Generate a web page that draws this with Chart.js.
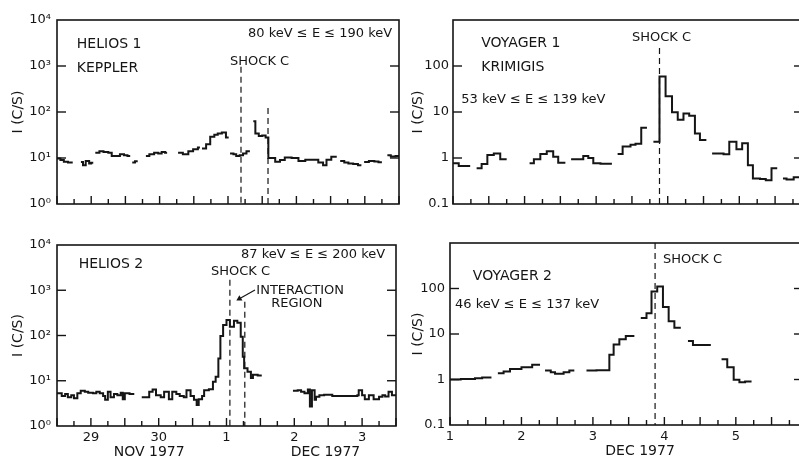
<!DOCTYPE html>
<html>
<head>
<meta charset="utf-8">
<script src="https://cdn.jsdelivr.net/npm/chart.js@4.4.1/dist/chart.umd.min.js"></script>
<style>
  html, body { margin: 0; padding: 0; background: #fff; width: 799px; height: 462px; overflow: hidden; }
  canvas { position: absolute; }
</style>
</head>
<body>
<canvas id="helios1" width="400" height="230" style="left:0;top:0"></canvas>
<canvas id="helios2" width="400" height="232" style="left:0;top:230px"></canvas>
<canvas id="voyager1" width="420" height="230" style="left:400px;top:0"></canvas>
<canvas id="voyager2" width="420" height="232" style="left:400px;top:230px"></canvas>
<script>
const INK = '#151515';
const TICK_INK = '#141414';
Chart.defaults.font.family = "'DejaVu Sans', sans-serif";
Chart.defaults.color = INK;
Chart.defaults.animation = false;

// Helios time axis: day of month counted from Nov, so Dec 1 = 31
const heliosDayTicks = [29, 30, 31, 32, 33];
const heliosDayLabels = ['29', '30', '1', '2', '3'];
const heliosDecades = [1, 10, 100, 1000, 10000];
const heliosDecadeLabels = ['10\u2070', '10\u00b9', '10\u00b2', '10\u00b3', '10\u2074'];

// Voyager time axis: day of Dec 1977
const voyagerDayTicks = [1, 2, 3, 4, 5];
const voyagerDayLabels = ['1', '2', '3', '4', '5'];
const voyagerDecades = [0.1, 1, 10, 100, 1000];
const voyagerDecadeLabels = ['0.1', '1', '10', '100', ''];

// Helios 1, 80-190 keV (null = data gap)
const h1Days = [
  28.50, 28.55, 28.60, 28.66, 28.73, 28.79,
  28.85, 28.88, 28.92, 28.97, 29.00, 29.03, 29.05,
  29.06, 29.12, 29.18, 29.25, 29.30, 29.37, 29.42, 29.48, 29.53, 29.57, 29.59,
  29.60, 29.64, 29.68, 29.74,
  29.80, 29.85, 29.92, 29.98, 30.03, 30.08, 30.11, 30.20,
  30.27, 30.34, 30.42, 30.49, 30.56, 30.59, 30.60,
  30.62, 30.68, 30.74, 30.80, 30.85, 30.91, 30.97, 31.01, 31.02,
  31.03, 31.08, 31.12, 31.17, 31.22, 31.27, 31.32, 31.35,
  31.37, 31.40, 31.45, 31.50, 31.55, 31.59, 31.69, 31.76, 31.83, 31.93, 32.03,
  32.13, 32.22, 32.32, 32.39, 32.44, 32.51, 32.59, 32.62,
  32.64, 32.70, 32.76, 32.83, 32.90, 32.95, 32.97,
  32.99, 33.06, 33.14, 33.20, 33.25, 33.29,
  33.33, 33.38, 33.45, 33.50
];
const h1Counts = [
  9.8, 9.0, 8.3, 8.0, 8.0, null,
  8.2, 7.0, 8.6, 7.6, 7.9, 7.9, null,
  13, 14, 13.5, 13, 11, 11, 12, 11.5, 11, 11, null,
  8.0, 8.5, 8.5, null,
  11, 12, 13, 12.5, 13.5, 13, 13, null,
  13, 12, 14, 15.5, 17, 17, null,
  16, 20, 29, 32, 34, 36, 28, 28, null,
  12.5, 12, 11, 11.5, 12.5, 14, 14, null,
  63, 34, 30, 31, 28, 10, 8.3, 9.0, 10.3, 10, 8.6,
  9.2, 9.2, 8.0, 7.0, 9.2, 10.7, 10.7, null,
  8.6, 8.0, 7.6, 7.4, 7.0, 7.0, null,
  8.2, 8.6, 8.4, 8.1, 8.1, null,
  11.5, 10.8, 11, 11
];
const h1ShockDays = [31.19, 31.585];
const h1ShockTops = [966, 122];

// Helios 2, 87-200 keV
const h2Days = [
  28.50, 28.57, 28.62, 28.66, 28.71, 28.75, 28.80, 28.85, 28.91, 28.96, 29.03, 29.08,
  29.13, 29.18, 29.21, 29.25, 29.29, 29.34, 29.39, 29.44, 29.47, 29.50, 29.57, 29.64, 29.70,
  29.75, 29.86, 29.91, 29.96, 30.03, 30.08, 30.15, 30.20, 30.26, 30.31, 30.37, 30.41,
  30.47, 30.52, 30.56, 30.59, 30.64, 30.67, 30.74, 30.80, 30.84, 30.88, 30.91, 30.95,
  31.00, 31.05, 31.11, 31.16, 31.21, 31.24, 31.26, 31.31, 31.36, 31.39, 31.46, 31.52, 31.70,
  31.98, 32.05, 32.10, 32.15, 32.20, 32.23, 32.26, 32.30, 32.32, 32.37, 32.44, 32.56,
  32.71, 32.83, 32.93, 32.95, 33.00, 33.04, 33.10, 33.17, 33.25, 33.30, 33.34, 33.39,
  33.44, 33.50
];
const h2Counts = [
  5.3, 4.6, 5.1, 4.3, 4.8, 4.1, 5.3, 6.0, 5.7, 5.4, 5.3, 5.7,
  5.3, 4.6, 3.8, 5.7, 4.3, 5.1, 4.8, 5.4, 3.9, 5.3, 5.1, 5.1, null,
  4.3, 5.7, 6.4, 4.8, 4.3, 5.7, 3.9, 5.7, 5.1, 4.6, 4.3, 6.2,
  4.6, 3.8, 2.9, 3.9, 4.6, 6.2, 6.5, 9.5, 12.3, 31, 97, 170,
  220, 156, 212, 191, 94, 34, 19, 15.8, 11.5, 13.5, 13, 13, null,
  6.0, 6.2, 5.7, 5.3, 6.4, 2.7, 6.2, 3.8, 4.45, 4.8, 4.9, 4.6,
  4.6, 4.6, 4.8, 6.2, 4.8, 3.9, 4.8, 3.9, 4.45, 4.8, 4.5, 5.7,
  4.8, 4.8
];
const h2ShockDays = [31.05, 31.27];
const h2ShockTops = [1700, 560];
const h2ArrowDays = [31.42, 31.19];
const h2ArrowCounts = [1012, 650];

// Voyager 1, 53-139 keV
const v1Days = [
  1.00, 1.08, 1.24, 1.28,
  1.33, 1.40, 1.48, 1.57, 1.66, 1.75, 1.90,
  2.07, 2.13, 2.22, 2.31, 2.40, 2.47, 2.57, 2.60,
  2.65, 2.82, 2.89, 2.96, 3.06, 3.22, 3.26,
  3.30, 3.37, 3.48, 3.55, 3.63, 3.71, 3.75,
  3.80, 3.885, 3.97, 4.06, 4.14, 4.22, 4.30, 4.38, 4.45, 4.54, 4.58,
  4.62, 4.78, 4.86, 4.96, 5.04, 5.12, 5.19, 5.29, 5.37, 5.45, 5.53, 5.57,
  5.61, 5.66, 5.76, 5.89
];
const v1Counts = [
  0.77, 0.67, 0.67, null,
  0.6, 0.74, 1.16, 1.26, 0.94, 0.94, null,
  0.77, 0.94, 1.22, 1.4, 1.07, 0.79, 0.79, null,
  0.94, 1.1, 1.0, 0.77, 0.75, 0.75, null,
  1.22, 1.77, 1.95, 2.05, 4.55, 4.55, null,
  2.26, 59, 22, 9.9, 6.8, 9.3, 8.3, 3.4, 2.45, 2.45, null,
  1.26, 1.2, 2.26, 1.55, 2.09, 0.7, 0.36, 0.35, 0.33, 0.6, 0.6, null,
  0.36, 0.34, 0.38, 0.38
];
const v1ShockDays = [3.885];
const v1ShockTops = [245];

// Voyager 2, 46-137 keV
const v2Days = [
  1.00, 1.15, 1.35, 1.45, 1.58, 1.62,
  1.67, 1.75, 1.84, 2.00, 2.15, 2.26, 2.30,
  2.33, 2.41, 2.47, 2.59, 2.67, 2.74, 2.80,
  2.91, 3.05, 3.23, 3.29, 3.37, 3.46, 3.58, 3.62,
  3.67, 3.75, 3.82, 3.90, 3.98, 4.06, 4.14, 4.23, 4.28,
  4.33, 4.40, 4.65, 4.70,
  4.80, 4.88, 4.97, 5.05, 5.13, 5.22
];
const v2Counts = [
  1.0, 1.02, 1.06, 1.1, 1.1, null,
  1.37, 1.5, 1.7, 1.85, 2.1, 2.1, null,
  1.58, 1.45, 1.33, 1.45, 1.58, 1.58, null,
  1.58, 1.6, 3.5, 5.9, 7.7, 9.0, 9.0, null,
  22.5, 28.7, 86, 110, 39, 19, 13.7, 13.7, null,
  7.0, 5.7, 5.7, null,
  2.8, 1.85, 0.99, 0.87, 0.9, 0.9
];
const v2ShockDays = [3.87];
const v2ShockTops = [1000];

// lettering inside the panels, placed in data coordinates (day, count)
const h1Notes = [
  { text: 'HELIOS 1', day: 28.79, count: 3000, size: 14 },
  { text: 'KEPPLER', day: 28.79, count: 905, size: 14 },
  { text: '80 keV \u2264 E \u2264 190 keV', day: 33.40, count: 4965, size: 13, align: 'right' },
  { text: 'SHOCK C', day: 31.03, count: 1222, size: 13 }
];
const h2Notes = [
  { text: 'HELIOS 2', day: 28.82, count: 3800, size: 14 },
  { text: '87 keV \u2264 E \u2264 200 keV', day: 33.34, count: 6000, size: 13, align: 'right' },
  { text: 'SHOCK C', day: 30.77, count: 2530, size: 13 },
  { text: 'INTERACTION', day: 31.44, count: 962, size: 13 },
  { text: 'REGION', day: 31.66, count: 497, size: 13 },
  { text: 'NOV 1977', day: 29.86, count: 0.266, size: 14, align: 'center' },
  { text: 'DEC 1977', day: 32.46, count: 0.266, size: 14, align: 'center' }
];
const v1Notes = [
  { text: 'VOYAGER 1', day: 1.395, count: 316, size: 14 },
  { text: 'KRIMIGIS', day: 1.395, count: 95, size: 14 },
  { text: '53 keV \u2264 E \u2264 139 keV', day: 1.116, count: 18.2, size: 13 },
  { text: 'SHOCK C', day: 3.50, count: 406, size: 13 }
];
const v2Notes = [
  { text: 'VOYAGER 2', day: 1.32, count: 182, size: 14 },
  { text: '46 keV \u2264 E \u2264 137 keV', day: 1.07, count: 44.9, size: 13 },
  { text: 'SHOCK C', day: 3.98, count: 427, size: 13 },
  { text: 'DEC 1977', day: 3.66, count: 0.026, size: 14, align: 'center' }
];

// box frame, inward ticks (quarter days, longer each half day; decades on
// both sides) and the lettering
function makeFrame(p) {
  return {
    id: 'frame',
    afterDraw(chart) {
      const { ctx, chartArea: a } = chart;
      const x = chart.scales.x, y = chart.scales.y;
      ctx.save();
      ctx.strokeStyle = INK;
      ctx.lineWidth = 1.6;
      ctx.strokeRect(a.left, a.top, a.right - a.left, a.bottom - a.top);
      // reset the fill state before the tick marks
      ctx.fillStyle = '#ffffff';
      ctx.fillRect(0, 0, 1, 1);
      ctx.fillStyle = TICK_INK;
      const n = Math.floor((x.max - x.min) * 4 + 1e-6);
      for (let k = 0; k <= n; k++) {
        const v = x.min + k / 4;
        const px = x.getPixelForValue(v);
        const len = Math.abs(v * 2 - Math.round(v * 2)) < 1e-6 ? 8 : 5;
        ctx.fillRect(px - 0.7, a.bottom - len, 1.4, len);
      }
      p.decades.forEach(v => {
        const py = y.getPixelForValue(v);
        if (!(py > a.top + 2 && py < a.bottom - 2)) return;
        ctx.fillRect(a.left, py - 0.7, 9, 1.4);
        ctx.fillRect(a.right - 9, py - 0.7, 9, 1.4);
      });
      ctx.fillStyle = INK;
      ctx.textBaseline = 'middle';
      p.notes.forEach(t => {
        ctx.font = t.size + "px 'DejaVu Sans', sans-serif";
        ctx.textAlign = t.align || 'left';
        ctx.fillText(t.text, x.getPixelForValue(t.day), y.getPixelForValue(t.count));
      });
      ctx.restore();
    }
  };
}

function series(days, counts) {
  return days.map((d, i) => ({ x: d, y: counts[i] }));
}

function makePanel(id, p) {
  const datasets = [{
    data: series(p.days, p.counts),
    borderColor: INK,
    borderWidth: 2,
    stepped: true,
    spanGaps: false,
    pointRadius: 0
  }];
  p.shockDays.forEach((d, i) => datasets.push({
    data: [{ x: d, y: p.shockTops[i] }, { x: d, y: p.yMin }],
    borderColor: INK,
    borderWidth: 1.2,
    borderDash: [6, 4],
    pointRadius: 0
  }));
  if (p.arrowDays) {
    datasets.push({
      data: series(p.arrowDays, p.arrowCounts),
      borderColor: INK,
      borderWidth: 1.2,
      pointStyle: 'triangle',
      pointRadius: [0, 3.5],
      pointRotation: 240,
      pointBackgroundColor: INK,
      pointBorderWidth: 0
    });
  }
  return new Chart(document.getElementById(id), {
    type: 'line',
    data: { datasets },
    options: {
      responsive: false,
      layout: { autoPadding: false, padding: { top: p.padTop, right: p.padRight, left: 0, bottom: 0 } },
      plugins: {
        legend: { display: false },
        tooltip: { enabled: false }
      },
      scales: {
        x: {
          type: 'linear',
          min: p.xMin,
          max: p.xMax,
          grid: { display: false, drawTicks: false, tickLength: 0 },
          border: { display: false },
          ticks: {
            display: p.showDays,
            stepSize: 0.25,
            autoSkip: false,
            maxRotation: 0,
            padding: 4,
            font: { size: 13 },
            callback: v => {
              const i = p.dayTicks.indexOf(v);
              return i < 0 ? '' : p.dayLabels[i];
            }
          },
          afterFit: s => { s.height = p.xHeight; }
        },
        y: {
          type: 'logarithmic',
          min: p.yMin,
          max: p.yMax,
          grid: { display: false, drawTicks: false, tickLength: 0 },
          border: { display: false },
          afterBuildTicks: s => { s.ticks = p.decades.map(v => ({ value: v })); },
          ticks: {
            padding: p.yPad,
            font: { size: 13 },
            callback: v => {
              const i = p.decades.indexOf(v);
              return i < 0 ? '' : p.decadeLabels[i];
            }
          },
          title: { display: true, text: 'I (C/S)', font: { size: 14 }, padding: { top: 10, bottom: 0 } },
          afterFit: s => { s.width = p.yWidth; }
        }
      }
    },
    plugins: [makeFrame(p)]
  });
}

makePanel('helios1', {
  days: h1Days, counts: h1Counts, shockDays: h1ShockDays, shockTops: h1ShockTops,
  notes: h1Notes, xMin: 28.5, xMax: 33.5, yMin: 1, yMax: 10000,
  dayTicks: heliosDayTicks, dayLabels: heliosDayLabels, showDays: false,
  decades: heliosDecades, decadeLabels: heliosDecadeLabels,
  padTop: 20, padRight: 1, yWidth: 57, xHeight: 26, yPad: 6
});
makePanel('helios2', {
  days: h2Days, counts: h2Counts, shockDays: h2ShockDays, shockTops: h2ShockTops,
  arrowDays: h2ArrowDays, arrowCounts: h2ArrowCounts,
  notes: h2Notes, xMin: 28.5, xMax: 33.5, yMin: 1, yMax: 10000,
  dayTicks: heliosDayTicks, dayLabels: heliosDayLabels, showDays: true,
  decades: heliosDecades, decadeLabels: heliosDecadeLabels,
  padTop: 15, padRight: 1, yWidth: 57, xHeight: 36, yPad: 6
});
makePanel('voyager1', {
  days: v1Days, counts: v1Counts, shockDays: v1ShockDays, shockTops: v1ShockTops,
  notes: v1Notes, xMin: 1, xMax: 5.89, yMin: 0.1, yMax: 1000,
  dayTicks: voyagerDayTicks, dayLabels: voyagerDayLabels, showDays: false,
  decades: voyagerDecades, decadeLabels: voyagerDecadeLabels,
  padTop: 20, padRight: 17, yWidth: 53, xHeight: 26, yPad: 4
});
makePanel('voyager2', {
  days: v2Days, counts: v2Counts, shockDays: v2ShockDays, shockTops: v2ShockTops,
  notes: v2Notes, xMin: 1, xMax: 5.94, yMin: 0.1, yMax: 1000,
  dayTicks: voyagerDayTicks, dayLabels: voyagerDayLabels, showDays: true,
  decades: voyagerDecades, decadeLabels: voyagerDecadeLabels,
  padTop: 13, padRight: 17, yWidth: 50, xHeight: 37, yPad: 5
});
</script>
</body>
</html>
